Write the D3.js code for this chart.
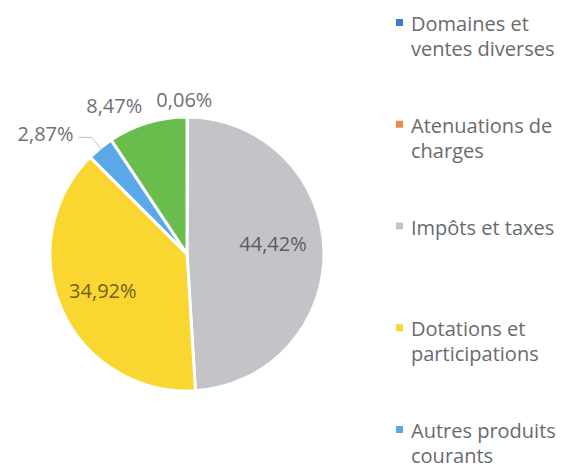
<!DOCTYPE html>
<html>
<head>
<meta charset="utf-8">
<script src="https://cdn.jsdelivr.net/npm/d3@7/dist/d3.min.js"></script>
<style>
    body { margin: 0; background: #ffffff; }
    svg { display: block; font-family: "Open Sans", sans-serif; }
    .legendText { font-size: 20px; fill: #6a6a6e; }
    .pieLabel { font-size: 20px; }
</style>
</head>
<body>
<script>
// categories, in series order (pie runs clockwise from 12 o'clock)
// the legend of the original only shows the first five entries
var categories = ["Domaines et ventes diverses", "Atenuations de charges", "Impôts et taxes",
    "Dotations et participations", "Autres produits courants", "Autres recettes"];

// label values in percent, as printed on the chart
var values = [0, 0.06, 44.42, 34.92, 2.87, 8.47];

var colors = ["#3c7dcb", "#ee8a4a", "#c4c4c8", "#f9d630", "#5aa9e6", "#6abd4c"];

var legendCount = 5;

function init() {
    var width = 566, height = 470;
    var cx = 187, cy = 254, radius = 137;

    var svg = d3.select("body").append("svg")
        .attr("width", width)
        .attr("height", height);

    var locale = d3.formatLocale({ decimal: ",", thousands: " ", grouping: [3], currency: ["", " €"] });
    var fmt = locale.format(".2f");

    //pie layout, no sorting so the slices keep the series order
    var pie = d3.pie()
        .sort(null)
        .value(function (d) { return d.value; });

    var data = categories.map(function (c, i) {
        return { name: c, value: values[i], color: colors[i], index: i };
    });

    var arcs = pie(data);

    var arc = d3.arc().innerRadius(0).outerRadius(radius);

    var g = svg.append("g")
        .attr("transform", "translate(" + cx + "," + cy + ")");

    //slices
    g.selectAll("path.slice")
        .data(arcs.filter(function (d) { return d.data.value > 0; }))
        .enter().append("path")
        .attr("class", "slice")
        .attr("d", arc)
        .style("fill", function (d) { return d.data.color; })
        .style("stroke", "#ffffff")
        .style("stroke-width", 3)
        .style("stroke-linejoin", "round");

    //labels
    var insideArc = d3.arc().innerRadius(radius * 0.65).outerRadius(radius * 0.65);
    var outsideArc = d3.arc().innerRadius(radius * 1.13).outerRadius(radius * 1.13);
    var elbowArc = d3.arc().innerRadius(radius * 1.1).outerRadius(radius * 1.1);
    var edgeArc = d3.arc().innerRadius(radius * 0.98).outerRadius(radius * 0.98);

    arcs.forEach(function (d) {
        if (d.data.value <= 0) return;
        var span = (d.endAngle - d.startAngle) * 180 / Math.PI;
        var mid = (d.startAngle + d.endAngle) / 2;
        var text = fmt(d.data.value) + "%";

        if (span > 40) {
            //inside label
            var c = insideArc.centroid(d);
            g.append("text")
                .attr("class", "pieLabel")
                .attr("x", c[0] - 3)
                .attr("y", c[1] - (d.index === 2 ? 8 : 0))
                .attr("text-anchor", "middle")
                .attr("dominant-baseline", "central")
                .style("fill", d.index === 3 ? "#6f6020" : "#5c5c62")
                .text(text);
        } else if (span < 12 && Math.sin(mid) < -0.2) {
            //small slice on the left: label pulled aside with a leader line
            var p0 = edgeArc.centroid(d);
            var p1 = elbowArc.centroid(d);
            var p2 = [p1[0] - 13, p1[1]];
            g.append("polyline")
                .attr("points", [p0, p1, p2].map(function (p) { return p.join(","); }).join(" "))
                .style("fill", "none")
                .style("stroke", "#bfbfbf")
                .style("stroke-width", 1);
            g.append("text")
                .attr("class", "pieLabel")
                .attr("x", p2[0] - 5)
                .attr("y", p2[1] - 4)
                .attr("text-anchor", "end")
                .attr("dominant-baseline", "central")
                .style("fill", "#707074")
                .text(text);
        } else {
            //outside label above the pie
            var o = outsideArc.centroid(d);
            var y = Math.min(o[1], -radius - 12);
            g.append("text")
                .attr("class", "pieLabel")
                .attr("x", o[0] - (Math.abs(Math.sin(mid)) < 0.1 ? 3 : 0))
                .attr("y", y)
                .attr("text-anchor", Math.abs(Math.sin(mid)) < 0.1 ? "middle" : (Math.sin(mid) < 0 ? "end" : "start"))
                .attr("dominant-baseline", "central")
                .style("fill", "#707074")
                .text(text);
        }
    });

    //legend
    var legendY = d3.scaleLinear()
        .domain([0, legendCount - 1])
        .range([31, 438]);

    var legend = svg.append("g").attr("class", "legend");

    data.slice(0, legendCount).forEach(function (d, i) {
        var item = legend.append("g")
            .attr("transform", "translate(0," + legendY(i) + ")");

        item.append("rect")
            .attr("x", 396)
            .attr("y", -12)
            .attr("width", 7)
            .attr("height", 7)
            .style("fill", d.color);

        var t = item.append("text")
            .attr("class", "legendText")
            .attr("x", 411)
            .attr("y", 0);

        //wrap words into lines no wider than the legend column
        var words = d.name.split(" ");
        var line = [];
        var tspan = t.append("tspan").attr("x", 411).attr("dy", 0);
        words.forEach(function (w) {
            line.push(w);
            tspan.text(line.join(" "));
            if (tspan.node().getComputedTextLength() > 158 && line.length > 1) {
                line.pop();
                tspan.text(line.join(" "));
                line = [w];
                tspan = t.append("tspan").attr("x", 411).attr("dy", 25).text(w);
            }
        });
    });
}

window.onload = init;
</script>
</body>
</html>
